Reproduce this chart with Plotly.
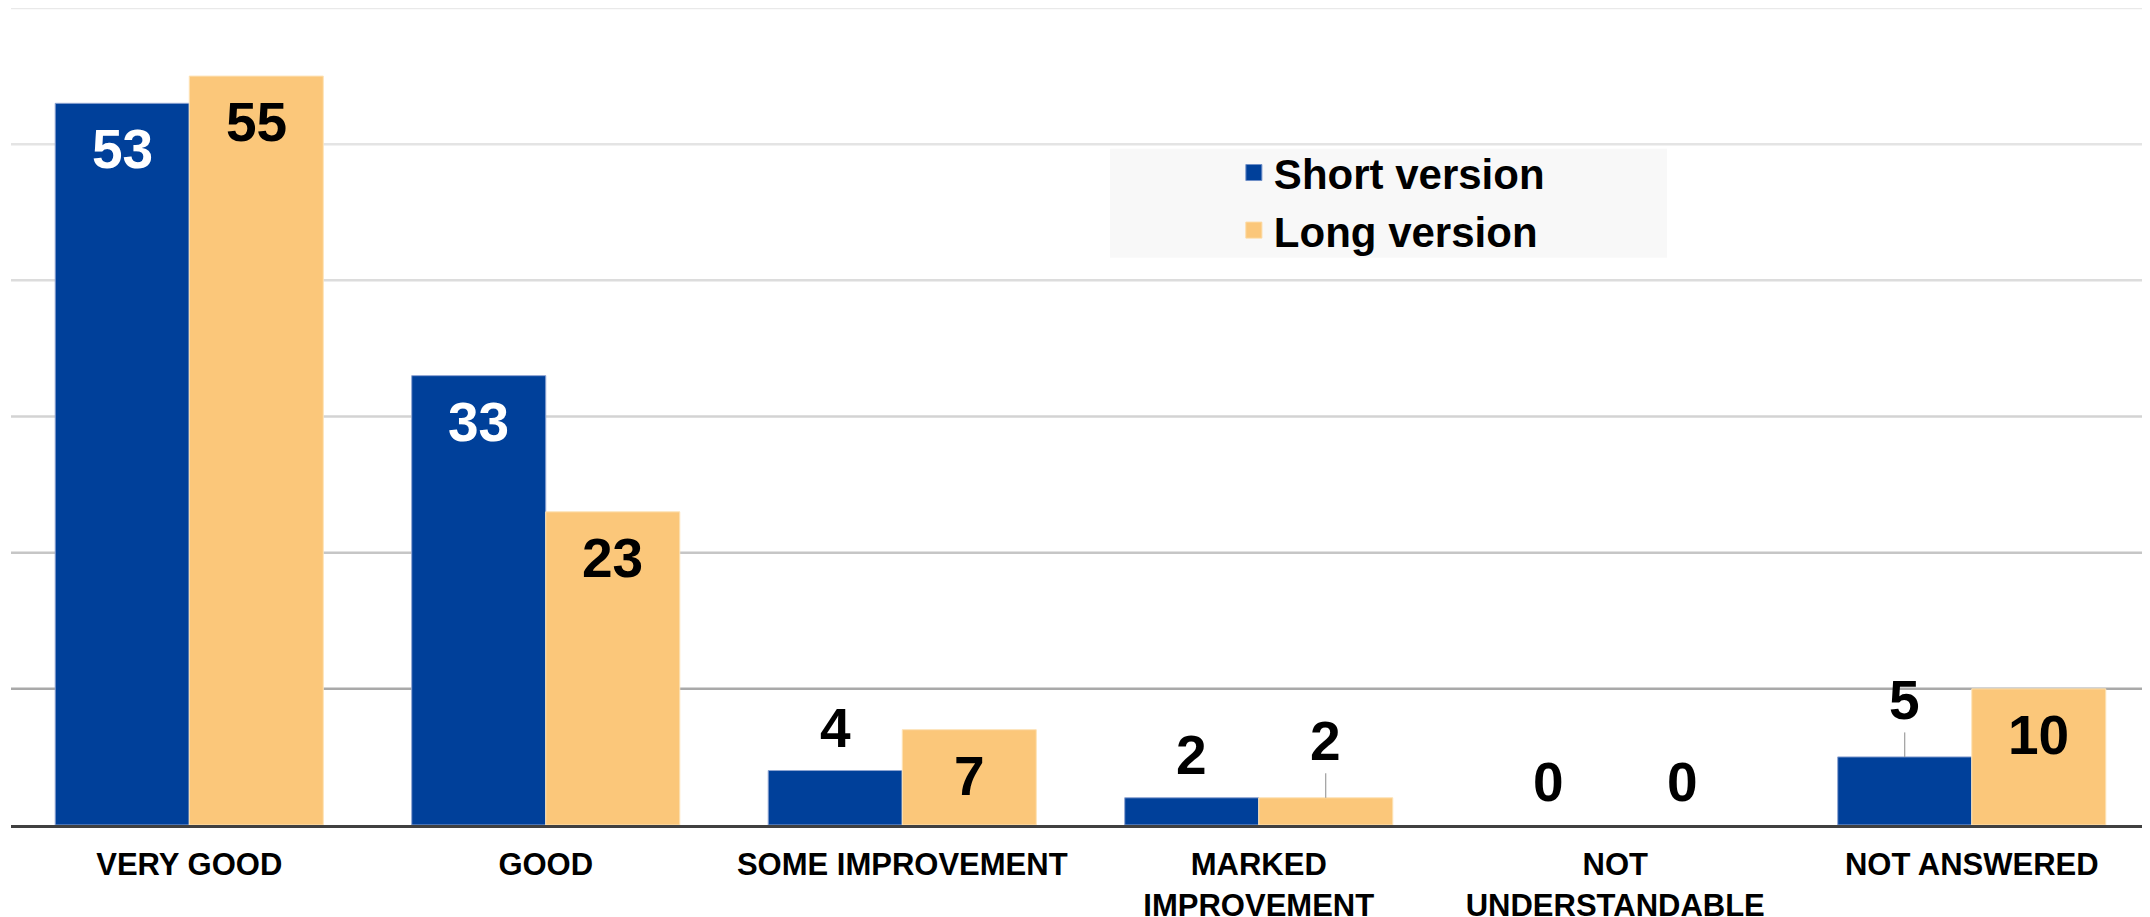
import plotly.graph_objects as go

categories = ["VERY GOOD", "GOOD", "SOME IMPROVEMENT", "MARKED<br>IMPROVEMENT",
              "NOT<br>UNDERSTANDABLE", "NOT ANSWERED"]
short_vals = [53, 33, 4, 2, 0, 5]
long_vals = [55, 23, 7, 2, 0, 10]
grid_vals = [10, 20, 30, 40, 50, 60]

# label placement per bar: inside top, above, or above with a leader line
short_pos = ["in", "in", "out", "out", "out", "lead"]
long_pos = ["in", "in", "in", "lead", "out", "in"]

BLUE = "#00409A"
ORANGE = "#FBC77A"
FONT = "Liberation Sans, Arial, sans-serif"
grid_colors = ["#a9a9a9", "#c6c6c6", "#d3d3d3", "#dcdcdc", "#e4e4e4", "#e9e9e9"]

fig = go.Figure()
fig.add_trace(go.Bar(x=categories, y=short_vals, name="Short version",
                     marker=dict(color=BLUE, line=dict(color="#8ea4d2",
                                 width=[1 if v else 0 for v in short_vals])),
                     showlegend=False, hoverinfo="skip"))
fig.add_trace(go.Bar(x=categories, y=long_vals, name="Long version",
                     marker=dict(color=ORANGE, line=dict(color="#fde3b8",
                                 width=[1 if v else 0 for v in long_vals])),
                     showlegend=False, hoverinfo="skip"))

# legend-only entries (bigger square swatches than the bar legend icon)
for name, col, edge in [("Short version", BLUE, "#6f8fc8"), ("Long version", ORANGE, "#fdd9a0")]:
    fig.add_trace(go.Scatter(x=[None], y=[None], mode="markers", name=name,
                             marker=dict(symbol="square", size=16, color=col,
                                         line=dict(color=edge, width=1))))

for v, c in zip(grid_vals, grid_colors):
    fig.add_hline(y=v, line=dict(color=c, width=2.5), layer="below")

# light panel behind the legend
fig.add_shape(type="rect", xref="paper", yref="paper", x0=0.5138, x1=0.7742,
              y0=0.6944, y1=0.8276, fillcolor="#f8f8f8", line=dict(width=0),
              layer="below")


def label(cat, val, pos, shift, inside_color):
    base = dict(x=cat, y=val, xref="x", yref="y", xshift=shift, text=str(val),
                font=dict(family=FONT, size=55, weight="bold", color="black"))
    if pos == "in":
        base.update(showarrow=False, yanchor="middle", yshift=-46,
                    font=dict(family=FONT, size=55, weight="bold", color=inside_color))
    elif pos == "out":
        base.update(showarrow=False, yanchor="middle", yshift=43)
    else:
        base.update(showarrow=True, ax=0, ay=-57, arrowhead=0, arrowwidth=1,
                    arrowcolor="#8a8a8a", standoff=0)
    return base


annotations = []
for cat, s, l, sp, lp in zip(categories, short_vals, long_vals, short_pos, long_pos):
    annotations.append(label(cat, s, sp, -67, "white"))
    annotations.append(label(cat, l, lp, 67, "black"))

# page body adds an 8px margin, so the figure is sized to fit the window
fig.update_layout(
    width=2142, height=909,
    paper_bgcolor="white", plot_bgcolor="white",
    margin=dict(l=3, r=0, t=0, b=92, autoexpand=False),
    barmode="group", bargap=0.248, bargroupgap=0,
    font=dict(family=FONT, color="black"),
    xaxis=dict(showline=True, linecolor="#404040", linewidth=3, ticks="",
               tickfont=dict(family=FONT, size=31, weight="bold", color="black"),
               ticklabelstandoff=10, automargin=False,
               showgrid=False, fixedrange=True),
    yaxis=dict(range=[0, 60], showgrid=False, zeroline=False, automargin=False,
               showticklabels=False, fixedrange=True),
    legend=dict(x=0.5717, y=0.840, xanchor="left", yanchor="top",
                bgcolor="rgba(0,0,0,0)",
                font=dict(family=FONT, size=42, weight="bold", color="black")),
    annotations=annotations,
)

fig.write_html("out.html")
